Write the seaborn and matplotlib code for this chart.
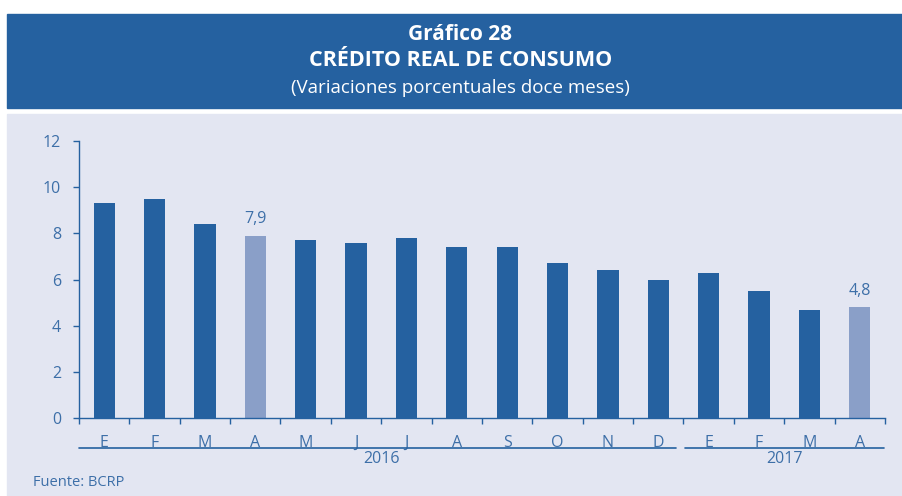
import pandas as pd
import seaborn as sns
import matplotlib.pyplot as plt
from matplotlib.patches import Rectangle

# datos del gráfico
meses = ['E', 'F', 'M', 'A', 'M', 'J', 'J', 'A', 'S', 'O', 'N', 'D', 'E', 'F', 'M', 'A']
anios = ['2016'] * 12 + ['2017'] * 4
valores = [9.3, 9.5, 8.4, 7.9, 7.7, 7.6, 7.8, 7.4, 7.4, 6.7, 6.4, 6.0, 6.3, 5.5, 4.7, 4.8]
destacados = [3, 15]
etiquetas_y = [0, 2, 4, 6, 8, 10, 12]

azul = '#2561A0'
azul_claro = '#8A9FC8'
fondo = '#E3E6F2'
texto = '#3D6FA8'

data = pd.DataFrame({'pos': range(len(valores)), 'mes': meses, 'anio': anios, 'valor': valores})
data['tipo'] = ['dest' if i in destacados else 'normal' for i in data['pos']]

sns.set_style('white')
plt.rcParams['font.family'] = ['Open Sans', 'DejaVu Sans']

fig = plt.figure(figsize=(9.03, 4.96), dpi=100)
W, H = 903, 496
# banda del título y panel de fondo
fig.patches.append(Rectangle((7 / W, 1 - 108 / H), 896 / W, 94 / H, transform=fig.transFigure,
                             color=azul, zorder=-5))
fig.patches.append(Rectangle((7 / W, 0), 896 / W, 1 - 114 / H, transform=fig.transFigure,
                             color=fondo, zorder=-5))
fig.text(0.5 + 9 / W, 1 - 35 / H, 'Gráfico 28', ha='center', va='center', color='white',
         fontsize=15, fontweight='bold')
fig.text(0.5 + 9 / W, 1 - 61 / H, 'CRÉDITO REAL DE CONSUMO', ha='center', va='center', color='white',
         fontsize=15.5, fontweight='bold')
fig.text(0.5 + 9 / W, 1 - 88 / H, '(Variaciones porcentuales doce meses)', ha='center', va='center',
         color='white', fontsize=13.5)

ax = fig.add_axes([79 / W, 78 / H, 806 / W, 277 / H])
ax.set_facecolor('none')
sns.barplot(data=data, x='pos', y='valor', hue='tipo', palette={'normal': azul, 'dest': azul_claro},
            dodge=False, width=0.42, legend=False, ax=ax, saturation=1, linewidth=0)

for cont in ax.containers:
    labs = []
    for bar in cont:
        i = int(round(bar.get_x() + bar.get_width() / 2))
        labs.append(f'{valores[i]:.1f}'.replace('.', ',') if i in destacados and bar.get_height() > 0 else '')
    ax.bar_label(cont, labels=labs, padding=6, color=texto, fontsize=11.5)

ax.set_xlim(-0.5, len(valores) - 0.5)
ax.set_ylim(0, 12)
ax.set_yticks(etiquetas_y)
ax.set_yticklabels([str(v) for v in etiquetas_y])
ax.set_xticks(range(len(meses)))
ax.set_xticklabels(meses)
ax.set_xticks([i - 0.5 for i in range(len(meses) + 1)], minor=True)
ax.tick_params(axis='x', which='major', bottom=True, length=0, pad=12, labelsize=11.5, labelcolor=texto)
ax.tick_params(axis='x', which='minor', bottom=True, length=4, width=1, color=azul, direction='out')
ax.tick_params(axis='y', left=True, length=4, width=1, color=azul, direction='out', pad=9,
               labelsize=11.5, labelcolor=texto)
ax.set_xlabel('')
ax.set_ylabel('')
for s in ['top', 'right']:
    ax.spines[s].set_visible(False)
for s in ['left', 'bottom']:
    ax.spines[s].set_color(azul)
    ax.spines[s].set_linewidth(1)

# líneas y etiquetas de años
tr = ax.get_xaxis_transform()
ax.plot([-0.5, 11.35], [-0.108, -0.108], color=azul, lw=1.2, transform=tr, clip_on=False)
ax.plot([11.52, 15.48], [-0.108, -0.108], color=azul, lw=1.2, transform=tr, clip_on=False)
ax.text(5.5, -0.148, '2016', transform=tr, ha='center', va='center', color=texto, fontsize=11.5)
ax.text(13.5, -0.148, '2017', transform=tr, ha='center', va='center', color=texto, fontsize=11.5)

fig.text(33 / W, 1 - 482 / H, 'Fuente: BCRP', ha='left', va='center', color=texto, fontsize=10.5)

plt.savefig('out.png', dpi=100)
plt.close()
